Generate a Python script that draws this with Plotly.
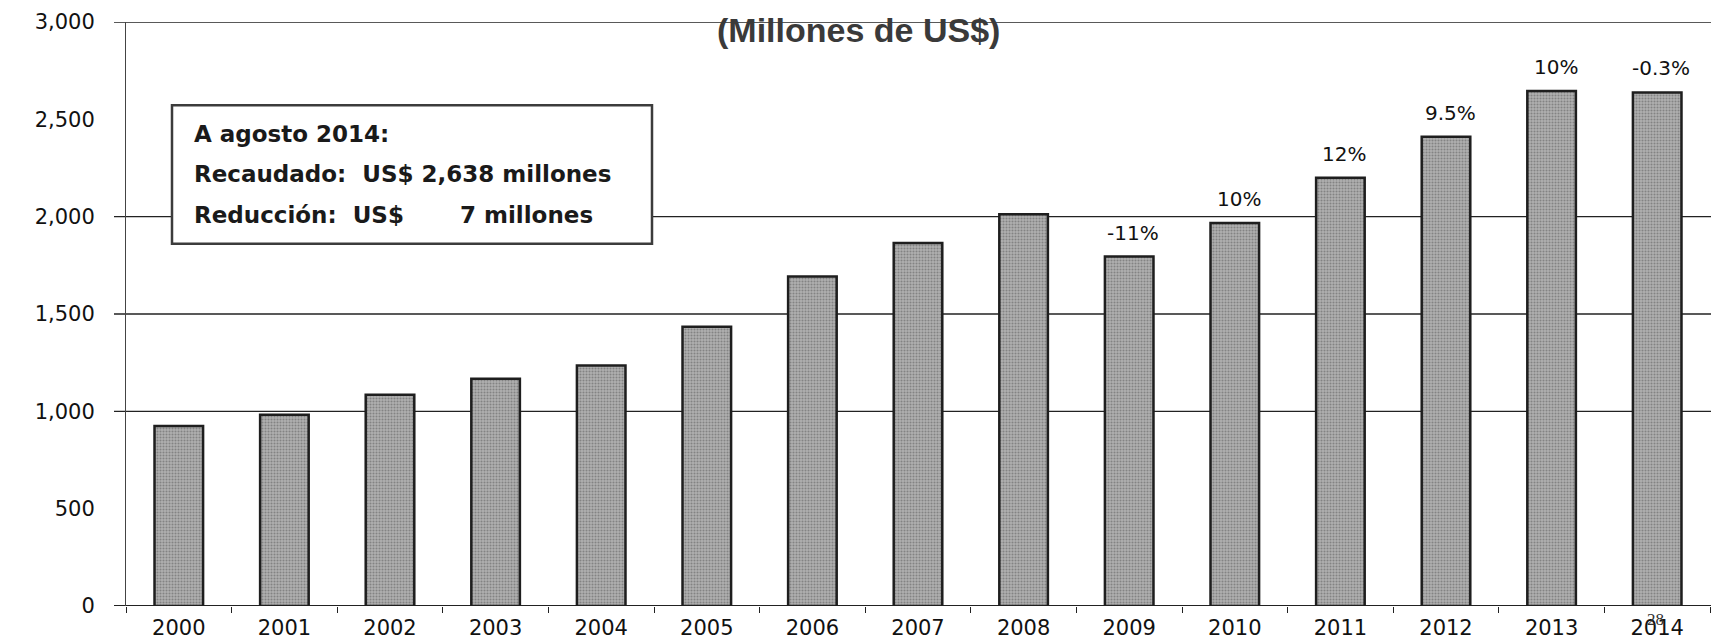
import plotly.graph_objects as go

years = ["2000", "2001", "2002", "2003", "2004", "2005", "2006", "2007",
         "2008", "2009", "2010", "2011", "2012", "2013", "2014"]
recaudacion = [925, 982, 1085, 1168, 1235, 1435, 1692, 1865,
               2013, 1795, 1968, 2200, 2410, 2645, 2638]
pct_years = ["2009", "2010", "2011", "2012", "2013", "2014"]
pct_labels = ["-11%", "10%", "12%", "9.5%", "10%", "-0.3%"]
grid_values = [0, 1000, 1500, 2000, 3000]
y_ticks = [0, 500, 1000, 1500, 2000, 2500, 3000]

box_lines = ["A agosto 2014:",
             "Recaudado:  US$ 2,638 millones",
             "Reducción:  US$       7 millones"]

W, H = 1711, 641
L, R, T, B = 126, 1, 22, 29
pw, ph = W - L - R, H - T - B

def px(x):
    return (x - L) / pw

def py(y):
    return (H - B - y) / ph

fig = go.Figure()
fig.add_trace(go.Bar(
    x=years, y=recaudacion,
    marker=dict(color="#9c9c9c",
                line=dict(color="#1e1e1e", width=2.5),
                pattern=dict(shape=".", fgcolor="#555555", bgcolor="#b0b0b0",
                             size=3, solidity=0.4)),
    hoverinfo="x+y",
))

annotations = []
for yr, lab in zip(pct_years, pct_labels):
    i = years.index(yr)
    annotations.append(dict(
        x=i, y=recaudacion[i], xref="x", yref="y", text=lab, showarrow=False,
        yanchor="bottom", yshift=10, xshift=4,
        font=dict(family="DejaVu Sans", size=20, color="#111")))

# Box text
for i, line in enumerate(box_lines):
    annotations.append(dict(
        x=px(192), y=py(135 + 41 * i), xref="paper", yref="paper",
        text="<b>" + line + "</b>", showarrow=False,
        xanchor="left", yanchor="middle",
        font=dict(family="DejaVu Sans", size=23, color="#1a1a1a")))

# Subtitle
annotations.append(dict(
    x=px(858), y=py(30), xref="paper", yref="paper",
    text="<b>(Millones de US$)</b>", showarrow=False,
    xanchor="center", yanchor="middle",
    font=dict(family="Liberation Sans", size=34, color="#3a3a3a")))

# page number
annotations.append(dict(
    x=px(1655), y=py(626), xref="paper", yref="paper",
    text="28", showarrow=False, xanchor="center", yanchor="middle",
    font=dict(family="Liberation Serif", size=17, color="#333")))

shapes = []
for g in grid_values:
    shapes.append(dict(type="line", xref="paper", yref="y",
                       x0=-12 / pw, x1=1.0 + R / pw,
                       y0=g, y1=g, line=dict(color="#222", width=1.4 if g else 2.2),
                       layer="below"))
shapes.append(dict(type="rect", xref="paper", yref="paper",
                   x0=px(172), x1=px(652), y0=py(246), y1=py(106),
                   line=dict(color="#3c3c3c", width=2.5),
                   fillcolor="white", layer="above"))

fig.update_layout(
    width=W, height=H,
    margin=dict(l=L, r=R, t=T, b=B),
    paper_bgcolor="white", plot_bgcolor="white",
    showlegend=False,
    bargap=0.54,
    annotations=annotations,
    shapes=shapes,
    xaxis=dict(
        type="category",
        range=[-0.5, len(years) - 0.5],
        showline=False,
        ticks="outside", ticklen=6, tickcolor="#222", tickwidth=1,
        tickson="boundaries",
        tickangle=0,
        showgrid=False,
        ticklabelstandoff=7,
        tickfont=dict(family="DejaVu Sans", size=21, color="#111"),
    ),
    yaxis=dict(
        range=[0, 3000],
        tickvals=y_ticks, tickformat=",d",
        showline=True, linecolor="#444", linewidth=1,
        ticks="",
        showgrid=False, zeroline=False,
        tickfont=dict(family="DejaVu Sans", size=21, color="#111"),
        ticklabelstandoff=26,
    ),
)

fig.write_html("out.html",
               config={"displayModeBar": False},
               post_script="document.body.style.margin='0';"
                           "document.body.style.overflow='hidden';")
